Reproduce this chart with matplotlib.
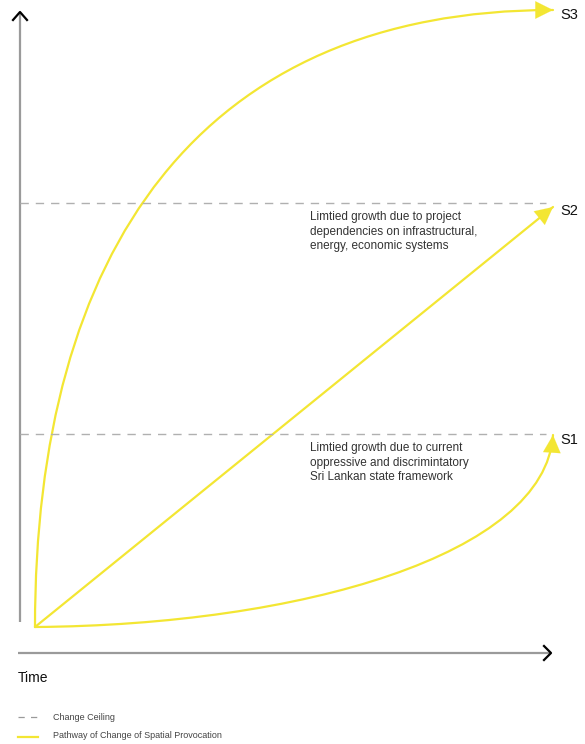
import matplotlib
matplotlib.use("Agg")
import matplotlib.pyplot as plt
from matplotlib.path import Path
from matplotlib.patches import PathPatch

plt.rcParams['font.family'] = ['Liberation Sans', 'DejaVu Sans']

YELLOW = '#f3e633'
GRAY = '#9a9a9a'

# Scenario pathways as Bezier control points (y downward)
s1_x = [35, 300, 545, 553]
s1_y = [627, 625, 555, 435]
s2_x = [35, 553]
s2_y = [627, 207]
s3_x = [35, 35, 200, 553]
s3_y = [627, 250, 10, 10]

scenario_labels = ['S1', 'S2', 'S3']
label_y = [440, 211, 15]

ceilings_y = [203, 434]
ceiling_notes = [
    "Limtied growth due to project\ndependencies on infrastructural,\nenergy, economic systems",
    "Limtied growth due to current\noppressive and discrimintatory\nSri Lankan state framework",
]

fig = plt.figure(figsize=(5.85, 7.44), dpi=100)
ax = fig.add_axes([0, 0, 1, 1])
ax.set_xlim(0, 585)
ax.set_ylim(744, 0)
ax.axis('off')

# axes
ax.plot([20, 20], [14, 622], color=GRAY, lw=1.6, solid_capstyle='butt')
ax.plot([13, 20, 27], [20, 12, 20], color='black', lw=1.6)
ax.plot([18, 549], [653, 653], color=GRAY, lw=1.6, solid_capstyle='butt')
ax.plot([544, 551, 544], [646, 653, 660], color='black', lw=1.6)

# ceilings
for y in ceilings_y:
    ax.plot([20, 546], [y, y], color='#b0b0b0', lw=1.0, dashes=(6, 5))

# pathways
for xs, ys in [(s1_x, s1_y), (s2_x, s2_y), (s3_x, s3_y)]:
    verts = list(zip(xs, ys))
    if len(verts) == 4:
        codes = [Path.MOVETO, Path.CURVE4, Path.CURVE4, Path.CURVE4]
    else:
        codes = [Path.MOVETO, Path.LINETO]
    ax.add_patch(PathPatch(Path(verts, codes), facecolor='none', edgecolor=YELLOW,
                           lw=1.6, capstyle='round'))
    ex, ey = xs[-1], ys[-1]
    dx, dy = xs[-1] - xs[-2], ys[-1] - ys[-2]
    ax.annotate('', xy=(ex, ey), xytext=(ex - dx * 0.001, ey - dy * 0.001),
                arrowprops=dict(arrowstyle='-|>,head_length=0.9,head_width=0.45',
                                color=YELLOW, lw=0.1, mutation_scale=14,
                                shrinkA=0, shrinkB=0))

for lab, y in zip(scenario_labels, label_y):
    ax.text(560, y, lab, fontsize=10.5, va='center', ha='left', color='#111111')

for y, note in zip(ceilings_y, ceiling_notes):
    ax.text(310, y + 8, note, fontsize=8.5, va='top', ha='left', color='#333333',
            linespacing=1.3)

ax.text(18, 678, 'Time', fontsize=10, va='center', ha='left', color='#111111')

# legend
ax.plot([18, 38], [717, 717], color='#9a9a9a', lw=0.9, dashes=(5, 5))
ax.text(53, 717, 'Change Ceiling', fontsize=6.5, va='center', ha='left', color='#444444')
ax.plot([18, 38], [737, 737], color=YELLOW, lw=1.6)
ax.text(53, 736, 'Pathway of Change of Spatial Provocation', fontsize=6.5,
        va='center', ha='left', color='#444444')

fig.savefig('out.png', dpi=100, facecolor='white')
